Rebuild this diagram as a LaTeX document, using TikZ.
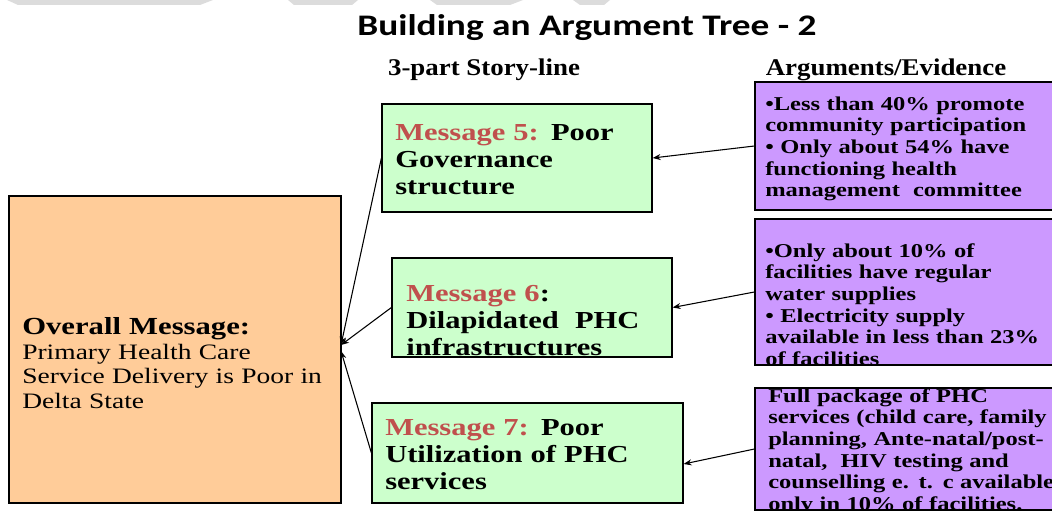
\documentclass[tikz,border=0pt]{standalone}
\usepackage{fontspec}
\setmainfont[FakeStretch=1.25]{Liberation Serif}
\newfontfamily\hdrfont[FakeStretch=1.12]{Liberation Serif}
\newfontfamily\titlefont[FakeStretch=1.25]{Carlito}
\usetikzlibrary{arrows.meta,fit,calc}
\definecolor{orangefill}{HTML}{FFCC99}
\definecolor{greenfill}{HTML}{CCFFCC}
\definecolor{purplefill}{HTML}{CC99FF}
\definecolor{msgred}{HTML}{C0504D}
\definecolor{bandgray}{HTML}{DCDCDC}
\begin{document}
\begin{tikzpicture}[x=0.75pt,y=-0.75pt,
  box/.style={draw=black, line width=0.9pt, inner sep=0pt},
  overallbox/.style={box, fill=orangefill},
  msgbox/.style={box, fill=greenfill},
  evbox/.style={box, fill=purplefill},
  txt/.style={anchor=base west, inner sep=0pt, align=left, text width=300pt},
  msgtxt/.style={txt, font=\bfseries\fontsize{18.3}{20.6}\selectfont},
  evtxt/.style={txt, font=\bfseries\fontsize{14.7}{16.25}\selectfont},
  hdr/.style={anchor=base, inner sep=0pt, font=\hdrfont\bfseries\fontsize{18}{20}\selectfont},
  arr/.style={line width=0.8pt, -{Stealth[length=6pt,width=4.5pt]}}
]
\useasboundingbox (0,0) rectangle (1052,510);
\clip (0,0) rectangle (1052,510);

% faint gray band at top
\fill[bandgray] (7,0) -- (213,0) -- (200,5) -- (18,5) -- cycle;
\fill[bandgray] (288,0) -- (358,0) -- (352,5) -- (294,5) -- cycle;
\fill[bandgray] (430,0) -- (523,0) -- (510,5) -- (437,5) -- cycle;
\fill[bandgray] (573,0) -- (610,0) -- (604,5) -- (580,5) -- cycle;

% title and headers
\node[anchor=base, inner sep=0pt, font=\titlefont\bfseries\fontsize{22.4}{26}\selectfont] (title) at (587,36) {Building an Argument Tree - 2};
\node[hdr] (hstory) at (484,75) {3-part Story-line};
\node[hdr] (hevid) at (886,75) {Arguments/Evidence};

% boxes
\node[overallbox, fit={(9,196) (341,503)}] (overall) {};
\node[msgbox, fit={(382,104) (652,212)}] (m5) {};
\node[msgbox, fit={(392,258) (672,357)}] (m6) {};
\node[msgbox, fit={(372,403) (683,503)}] (m7) {};
\node[evbox, fit={(755,82) (1062,210)}] (e5) {};
\node[evbox, fit={(755,219) (1062,365)}] (e6) {};
\node[evbox, fit={(755,388) (1062,510)}] (e7) {};

% overall message text
\node[txt, font=\bfseries\fontsize{18.4}{20}\selectfont] (otitle) at (22,334) {Overall Message:};
\node[txt, font=\fontsize{16.5}{18.6}\selectfont] (otext) at (22,359) {Primary Health Care\\Service Delivery is Poor in\\Delta State};

% message texts
\node[msgtxt] (t5) at (395,140) {\textcolor{msgred}{Message 5:} Poor\\Governance\\structure};
\begin{scope}
  \clip ($(m6.south west)+(0,-1)$) rectangle (m6.north east);
  \node[msgtxt] (t6) at (406,301) {\textcolor{msgred}{Message 6}:\\Dilapidated\ \ PHC\\infrastructures};
\end{scope}
\node[msgtxt] (t7) at (385,435) {\textcolor{msgred}{Message 7:} Poor\\Utilization of PHC\\services};

% evidence texts
\node[evtxt] (v5) at (765,110) {•Less than 40\% promote\\community participation\\• Only about 54\% have\\functioning health\\management\ \ committee};
\begin{scope}
  \clip ($(e6.south west)+(0,-1)$) rectangle (e6.north east);
  \node[evtxt] (v6) at (765,257) {•Only about 10\% of\\facilities have regular\\water supplies\\• Electricity supply\\available in less than 23\%\\of facilities};
\end{scope}
\node[evtxt] (v7) at (768,402) {Full package of PHC\\services (child care, family\\planning, Ante-natal/post-\\natal,\ \ HIV testing and\\counselling e. t. c available\\only in 10\% of facilities.};

% connectors
\coordinate (tipA) at (341,345);
\coordinate (tipB) at (341,351);
\draw[arr] (m5.west) -- (tipA);
\draw[arr] (m6.west) -- (tipA);
\draw[arr] (m7.west) -- (tipB);
\draw[arr] (e5.west) -- (m5.east);
\draw[arr] (e6.west) -- (m6.east);
\draw[arr] (e7.west) -- ($(m7.east)+(0,11)$);
\end{tikzpicture}
\end{document}
